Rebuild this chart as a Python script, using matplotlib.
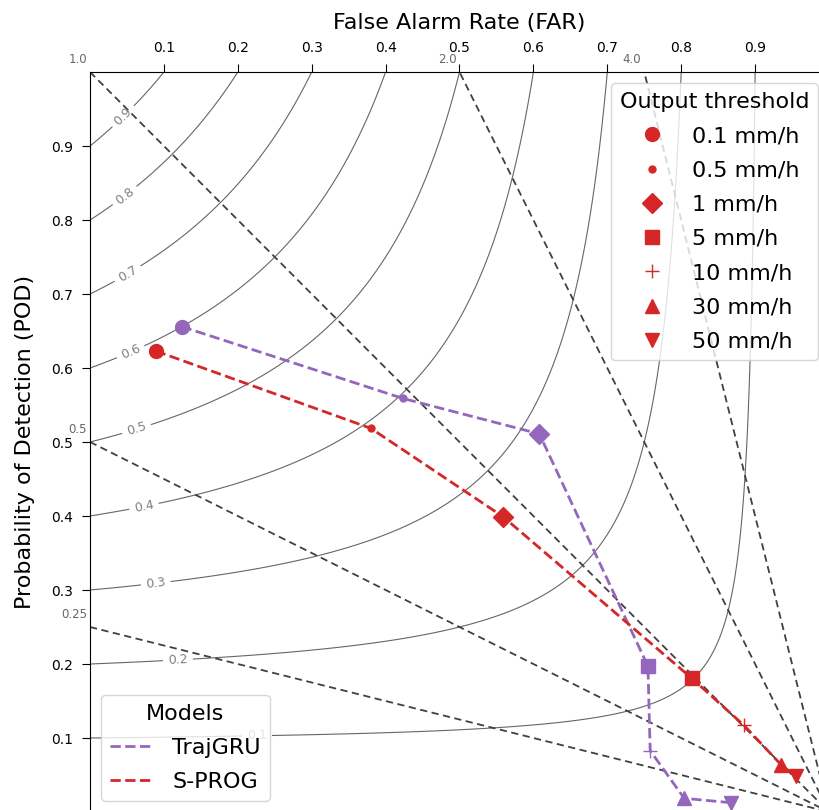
import numpy as np
import matplotlib
matplotlib.use("Agg")
import matplotlib.pyplot as plt
from matplotlib.lines import Line2D

# ---- data ----
thresholds = ["0.1 mm/h", "0.5 mm/h", "1 mm/h", "5 mm/h", "10 mm/h", "30 mm/h", "50 mm/h"]
markers = ["o", ".", "D", "s", "+", "^", "v"]
models = ["TrajGRU", "S-PROG"]
model_colors = ["#9467bd", "#d62728"]
trajgru_far = [0.124, 0.423, 0.608, 0.755, 0.758, 0.804, 0.867]
trajgru_pod = [0.656, 0.559, 0.511, 0.197, 0.083, 0.0185, 0.0126]
sprog_far = [0.089, 0.380, 0.559, 0.814, 0.885, 0.935, 0.955]
sprog_pod = [0.623, 0.5185, 0.399, 0.181, 0.117, 0.064, 0.048]
csi_levels = [0.1, 0.2, 0.3, 0.4, 0.5, 0.6, 0.7, 0.8, 0.9]
bias_levels = [0.25, 0.5, 1.0, 2.0, 4.0]
ticks = [0.1, 0.2, 0.3, 0.4, 0.5, 0.6, 0.7, 0.8, 0.9]

W, H = 820, 810
fig = plt.figure(figsize=(W / 100, H / 100), dpi=100)
ax = fig.add_axes([90 / W, (H - 812) / H, 739 / W, 740 / H])

# CSI contours
far = np.linspace(0.0005, 0.9995, 400)
pod = np.linspace(0.0005, 0.9995, 400)
F, P = np.meshgrid(far, pod)
CSI = 1.0 / (1.0 / P + 1.0 / (1.0 - F) - 1.0)
cs = ax.contour(F, P, CSI, levels=csi_levels, colors="0.4", linewidths=0.8)
label_far = [0.226, 0.119, 0.089, 0.073, 0.063, 0.055, 0.051, 0.047, 0.045]
manual = []
for c, fx in zip(csi_levels, label_far):
    py = 1.0 / (1.0 / c + 1.0 - 1.0 / (1.0 - fx))
    manual.append((fx, py))
ax.clabel(cs, inline=True, fontsize=9, fmt="%.1f", manual=manual, colors="0.5")

# Bias lines
xf = np.linspace(0, 1, 500)
for b in bias_levels:
    yb = b * (1 - xf)
    m = yb <= 1.0
    ax.plot(xf[m], yb[m], ls="--", color="0.25", lw=1.3, dashes=(4, 2.5))
    if b <= 1:
        tx, ty = 0.0, b
    else:
        tx, ty = 1 - 1 / b, 1.0
    ax.text(tx - 0.004, ty + 0.008, str(b), ha="right", va="bottom", fontsize=8.5,
            color="0.4", clip_on=False)

# Model curves
series = [(trajgru_far, trajgru_pod), (sprog_far, sprog_pod)]
for (fx, py), col in zip(series, model_colors):
    ax.plot(fx, py, ls="--", color=col, lw=2)
    for xi, yi, mk in zip(fx, py, markers):
        ax.plot([xi], [yi], marker=mk, color=col, ms=10, ls="none")

ax.set_xlim(0, 1)
ax.set_ylim(0, 1)
ax.set_xticks(ticks)
ax.set_yticks(ticks)
ax.xaxis.tick_top()
ax.xaxis.set_label_position("top")
ax.tick_params(labelsize=10, length=6, pad=6)
ax.set_xlabel("False Alarm Rate (FAR)", fontsize=16, labelpad=9)
ax.set_ylabel("Probability of Detection (POD)", fontsize=16, labelpad=12)

# legends
thr_handles = [Line2D([], [], marker=mk, color="#d62728", ls="none", ms=10) for mk in markers]
leg1 = ax.legend(thr_handles, thresholds, title="Output threshold", loc="upper right",
                 fontsize=16, title_fontsize=16, labelspacing=0.64)
ax.add_artist(leg1)
mod_handles = [Line2D([], [], color=c, ls="--", lw=2) for c in model_colors]
ax.legend(mod_handles, models, title="Models", loc="lower left", fontsize=16,
          title_fontsize=16, labelspacing=0.64)

fig.savefig("out.png", dpi=100)
